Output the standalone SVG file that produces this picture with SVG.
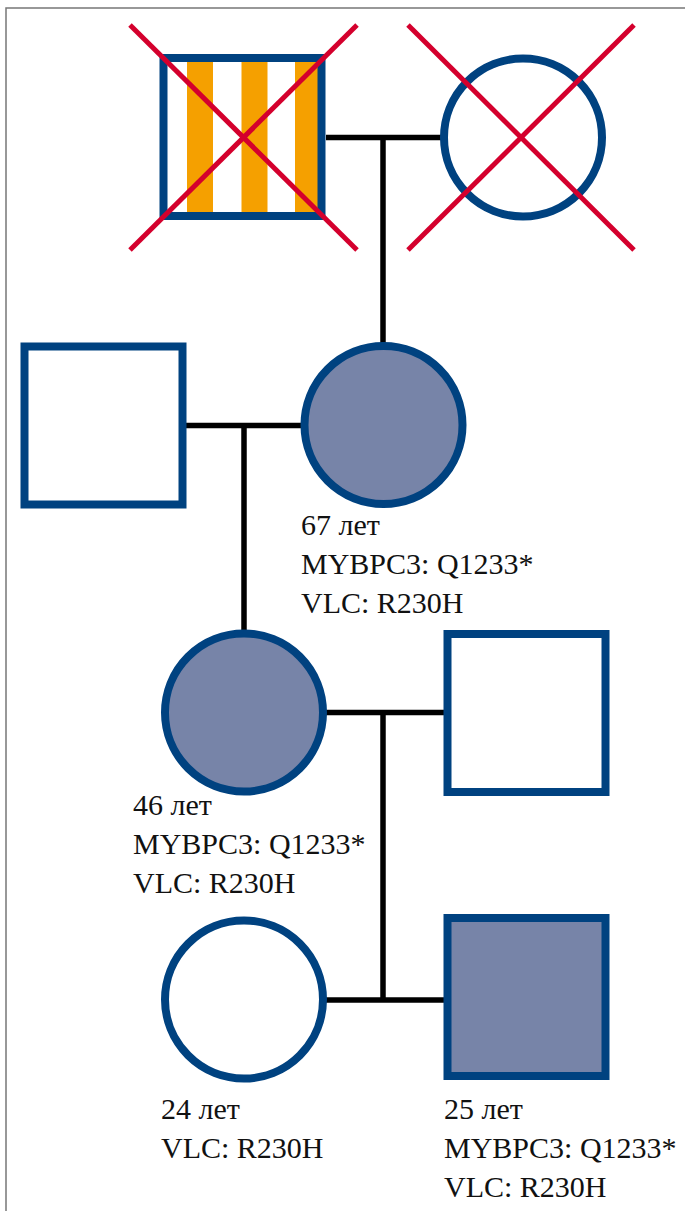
<svg xmlns="http://www.w3.org/2000/svg" width="685" height="1211" viewBox="0 0 685 1211">
  <style>
    .person { stroke: #004280; stroke-width: 8; }
    .unaff { fill: #ffffff; }
    .aff { fill: #7784A8; }
    .cross { stroke: #D4002D; stroke-width: 5; fill: none; }
    .link { stroke: #000000; stroke-width: 5.5; fill: none; }
    .stripe { fill: #F5A000; }
    text { font-family: 'Liberation Serif', serif; font-size: 30px; fill: #111111; }
  </style>
  <rect x="0" y="0" width="685" height="1211" fill="#ffffff"/>
  <path d="M6 1211 V8 H685" fill="none" stroke="#777777" stroke-width="1.5"/>

  <g id="connectors">
    <line class="link" x1="326" y1="137.5" x2="441" y2="137.5"/>
    <line class="link" x1="383" y1="137.5" x2="383" y2="343"/>
    <line class="link" x1="186" y1="425.5" x2="301" y2="425.5"/>
    <line class="link" x1="244" y1="425.5" x2="244" y2="630"/>
    <line class="link" x1="326" y1="712.5" x2="444" y2="712.5"/>
    <line class="link" x1="383" y1="712.5" x2="383" y2="1000"/>
    <line class="link" x1="326" y1="1000" x2="444" y2="1000"/>
  </g>

  <g id="grandfather">
    <rect class="unaff" x="163.5" y="58" width="158" height="158"/>
    <rect class="stripe" x="187" y="62" width="26" height="150"/>
    <rect class="stripe" x="241.5" y="62" width="26" height="150"/>
    <rect class="stripe" x="295" y="62" width="26" height="150"/>
    <rect class="person" fill="none" x="163.5" y="58" width="158" height="158"/>
    <line class="cross" x1="130" y1="25" x2="357" y2="250"/>
    <line class="cross" x1="357" y1="25" x2="130" y2="250"/>
  </g>

  <g id="grandmother">
    <circle class="person unaff" cx="523" cy="137.5" r="79"/>
    <line class="cross" x1="408" y1="25" x2="634" y2="250"/>
    <line class="cross" x1="634" y1="25" x2="408" y2="250"/>
  </g>

  <g id="husband1">
    <rect class="person unaff" x="24.5" y="346.5" width="158" height="158"/>
  </g>

  <g id="woman67">
    <circle class="person aff" cx="383.5" cy="425" r="79"/>
    <text font-family="Liberation Serif, serif" x="301" y="535">67 лет</text>
    <text font-family="Liberation Serif, serif" x="301" y="574">MYBPC3: Q1233*</text>
    <text font-family="Liberation Serif, serif" x="301" y="613">VLC: R230H</text>
  </g>

  <g id="woman46">
    <circle class="person aff" cx="244" cy="712.5" r="79"/>
    <text font-family="Liberation Serif, serif" x="133" y="815">46 лет</text>
    <text font-family="Liberation Serif, serif" x="133" y="854">MYBPC3: Q1233*</text>
    <text font-family="Liberation Serif, serif" x="133" y="893">VLC: R230H</text>
  </g>

  <g id="husband2">
    <rect class="person unaff" x="447.5" y="634" width="158" height="158"/>
  </g>

  <g id="daughter24">
    <circle class="person unaff" cx="244" cy="999.5" r="79"/>
    <text font-family="Liberation Serif, serif" x="161" y="1119">24 лет</text>
    <text font-family="Liberation Serif, serif" x="161" y="1158">VLC: R230H</text>
  </g>

  <g id="son25">
    <rect class="person aff" x="447.5" y="918" width="158" height="158"/>
    <text font-family="Liberation Serif, serif" x="444" y="1119">25 лет</text>
    <text font-family="Liberation Serif, serif" x="444" y="1158">MYBPC3: Q1233*</text>
    <text font-family="Liberation Serif, serif" x="444" y="1197">VLC: R230H</text>
  </g>
</svg>
